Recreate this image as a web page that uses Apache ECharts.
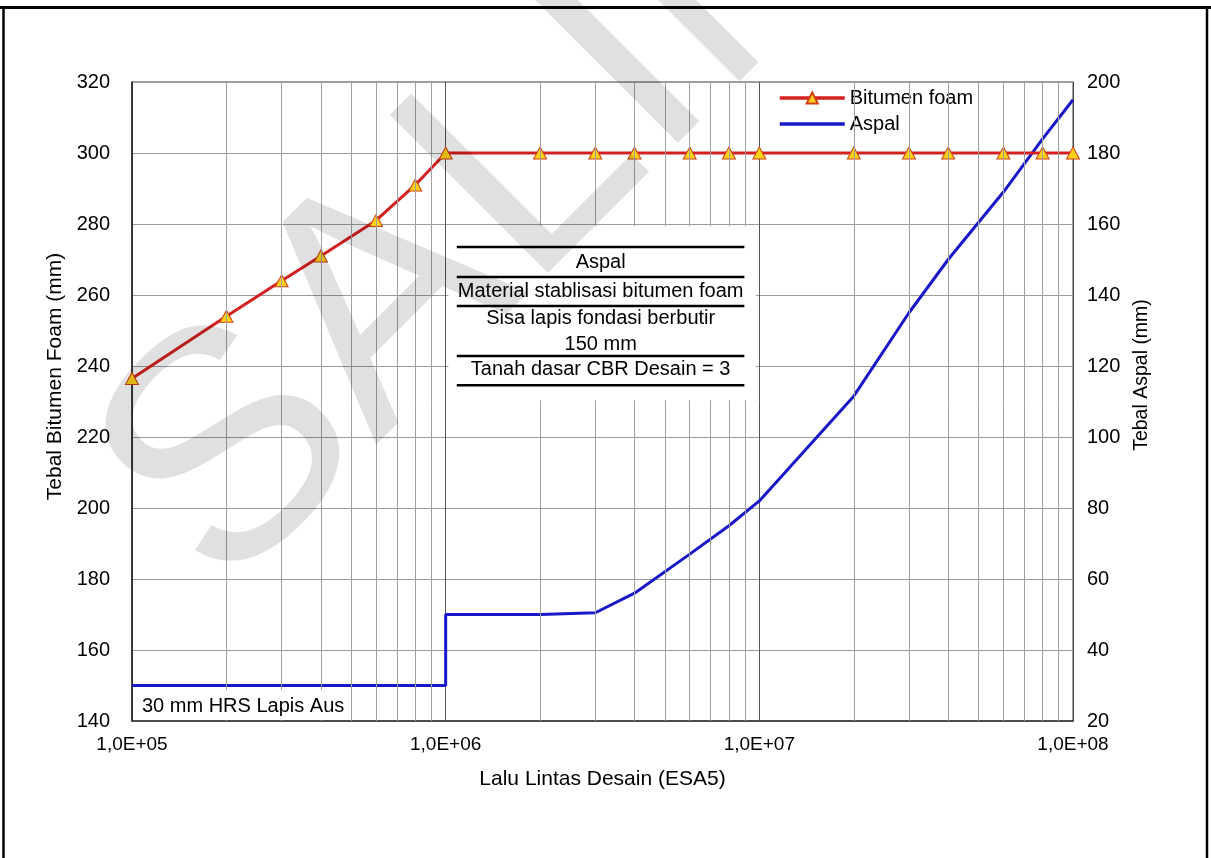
<!DOCTYPE html>
<html>
<head>
<meta charset="utf-8">
<script src="https://cdn.jsdelivr.net/npm/echarts@6/dist/echarts.min.js"></script>
<style>
html,body{margin:0;padding:0;background:#fff;}
#c{width:1211px;height:858px;}
</style>
</head>
<body>
<div id="c"></div>
<script>
// ---- data ----
const foamX = [1e5, 2e5, 3e5, 4e5, 6e5, 8e5, 1e6, 2e6, 3e6, 4e6, 6e6, 8e6, 1e7, 2e7, 3e7, 4e7, 6e7, 8e7, 1e8];
const foamY = [236.5, 254, 264, 271, 281, 291, 300, 300, 300, 300, 300, 300, 300, 300, 300, 300, 300, 300, 300];
const aspalX = [1e5, 1e6, 1e6, 2e6, 3e6, 4e6, 6e6, 8e6, 1e7, 2e7, 3e7, 4e7, 6e7, 8e7, 1e8];
const aspalY = [30, 30, 50, 50, 50.5, 56, 67, 75, 82, 111.5, 135, 150, 169, 184, 195];
const minorGridX = [2e5,3e5,4e5,5e5,6e5,7e5,8e5,9e5, 2e6,3e6,4e6,5e6,6e6,7e6,8e6,9e6, 2e7,3e7,4e7,5e7,6e7,7e7,8e7,9e7];
const seriesNames = ['Bitumen foam', 'Aspal'];
const boxLabels = ['Aspal', 'Material stablisasi bitumen foam', 'Sisa lapis fondasi berbutir', '150 mm', 'Tanah dasar CBR Desain = 3'];
const FONT = '"Liberation Sans", Arial, sans-serif';

const chart = echarts.init(document.getElementById('c'), null, {renderer: 'canvas'});

const option = {
  backgroundColor: '#fff',
  animation: false,
  textStyle: {fontFamily: FONT},
  grid: {left: 132, right: 138, top: 82, bottom: 137, show: true, borderColor: '#444', borderWidth: 1, backgroundColor: 'transparent'},
  legend: {
    data: [{name: seriesNames[0]}, {name: seriesNames[1], itemStyle: {opacity: 0}}],
    orient: 'vertical', left: 772, top: 84,
    itemWidth: 65, itemHeight: 14, itemGap: 6,
    backgroundColor: '#fff', padding: [4, 8, 4, 6],
    lineStyle: {width: 3.5},
    textStyle: {fontSize: 20, color: '#000', fontFamily: FONT}
  },
  xAxis: {
    type: 'log', logBase: 10, min: 1e5, max: 1e8,
    name: 'Lalu Lintas Desain (ESA5)', nameLocation: 'middle', nameGap: 48,
    nameTextStyle: {fontSize: 21, color: '#000', fontFamily: FONT},
    axisLine: {show: true, lineStyle: {color: '#333', width: 1.5}},
    axisTick: {show: false},
    axisLabel: {
      fontSize: 19, color: '#000', margin: 14, fontFamily: FONT,
      formatter: v => '1,0E+' + String(Math.round(Math.log10(v))).padStart(2, '0')
    },
    splitLine: {show: true, lineStyle: {color: '#555', width: 1}}
  },
  yAxis: [
    {
      type: 'value', min: 140, max: 320, interval: 20, position: 'left',
      name: 'Tebal Bitumen Foam (mm)', nameLocation: 'middle', nameGap: 57,
      nameTextStyle: {fontSize: 21, color: '#000', fontFamily: FONT, padding: [0, 0, 0, 50]},
      axisLine: {show: true, lineStyle: {color: '#222', width: 1.5}},
      axisTick: {show: false},
      axisLabel: {fontSize: 20, color: '#000', margin: 22, fontFamily: FONT},
      splitLine: {show: true, lineStyle: {color: '#9a9a9a', width: 1}}
    },
    {
      type: 'value', min: 20, max: 200, interval: 20, position: 'right',
      name: 'Tebal Aspal (mm)', nameLocation: 'middle', nameGap: 58,
      nameTextStyle: {fontSize: 19.5, color: '#000', fontFamily: FONT, padding: [0, 0, 0, 53]},
      axisLine: {show: true, lineStyle: {color: '#444', width: 1}},
      axisTick: {show: false},
      axisLabel: {fontSize: 20, color: '#000', margin: 14, fontFamily: FONT},
      splitLine: {show: false}
    }
  ],
  series: [
    {
      name: 'minorGrid', type: 'line', data: [], z: 1, silent: true,
      markLine: {
        silent: true, symbol: 'none', label: {show: false},
        lineStyle: {color: '#a0a0a0', width: 1, type: 'solid'},
        data: minorGridX.map(v => ({xAxis: v}))
      }
    },
    {
      name: seriesNames[1], type: 'line', yAxisIndex: 1, z: 3,
      data: aspalX.map((x, i) => [x, aspalY[i]]),
      symbol: 'none', lineStyle: {color: '#1818c8', width: 3}, itemStyle: {color: '#1818c8'}
    },
    {
      name: seriesNames[0], type: 'line', yAxisIndex: 0, z: 4,
      data: foamX.map((x, i) => [x, foamY[i]]),
      symbol: 'triangle', symbolSize: [13, 12], showAllSymbol: true,
      lineStyle: {color: '#d42020', width: 3},
      itemStyle: {color: '#ffd21a', borderColor: '#d04010', borderWidth: 1}
    }
  ]
};
chart.setOption(option);

// ---- annotations anchored in data coordinates ----
const P = (x, y) => chart.convertToPixel({xAxisIndex: 0, yAxisIndex: 0}, [x, y]);
const g = [];
// page border
g.push({type: 'line', shape: {x1: 0, y1: 7.5, x2: 1211, y2: 7.5}, style: {stroke: '#000', lineWidth: 3}, z: 50});
g.push({type: 'line', shape: {x1: 3.5, y1: 6, x2: 3.5, y2: 858}, style: {stroke: '#000', lineWidth: 2.5}, z: 50});
g.push({type: 'line', shape: {x1: 1207, y1: 6, x2: 1207, y2: 858}, style: {stroke: '#000', lineWidth: 2.5}, z: 50});

// central box
const b0 = P(1.02e6, 279.4), b1 = P(9.75e6, 230.4);
g.push({type: 'rect', shape: {x: b0[0], y: b0[1], width: b1[0] - b0[0], height: b1[1] - b0[1]}, style: {fill: '#fff'}, z: 10});
const lineYs = [273.5, 265.1, 256.9, 242.8, 234.6];
lineYs.forEach(v => {
  const a = P(1.085e6, v), c = P(8.96e6, v);
  g.push({type: 'line', shape: {x1: a[0], y1: a[1], x2: c[0], y2: c[1]}, style: {stroke: '#000', lineWidth: 2.5}, z: 11});
});
const textYs = [269.3, 261.0, 253.3, 246.0, 238.9];
boxLabels.forEach((t, i) => {
  const p = P(3.12e6, textYs[i]);
  g.push({type: 'text', x: p[0], y: p[1], style: {text: t, font: '20px ' + FONT, fill: '#000', align: 'center', verticalAlign: 'middle'}, z: 12});
});

// bottom-left note
const n0 = P(1.01e5, 148.7), n1 = P(4.77e5, 140.3);
g.push({type: 'rect', shape: {x: n0[0], y: n0[1], width: n1[0] - n0[0], height: n1[1] - n0[1]}, style: {fill: '#fff'}, z: 10});
const nt = P(1.076e5, 144.2);
g.push({type: 'text', x: nt[0], y: nt[1], style: {text: '30 mm HRS Lapis Aus', font: '20px ' + FONT, fill: '#000', align: 'left', verticalAlign: 'middle'}, z: 12});

// watermark
g.push({type: 'text', x: 159, y: 535, rotation: Math.PI / 4, silent: true,
  style: {text: 'SALINAN', font: '325px ' + FONT, fill: 'rgba(0,0,0,0.12)', align: 'left', verticalAlign: 'middle'}, z: 100});

chart.setOption({graphic: {elements: g}});
</script>
</body>
</html>
